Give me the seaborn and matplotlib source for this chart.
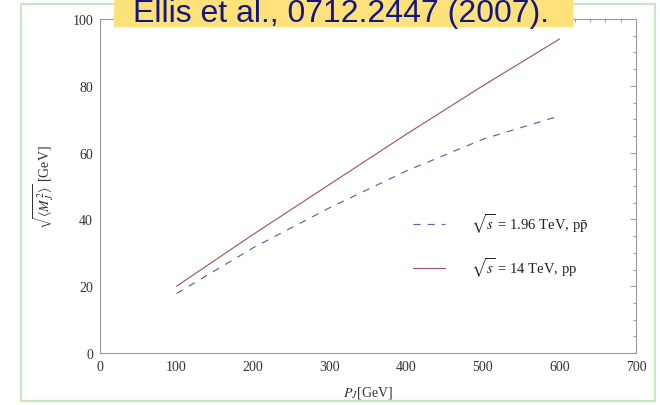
import matplotlib
matplotlib.use("Agg")
import matplotlib.pyplot as plt
import pandas as pd
import seaborn as sns
from matplotlib.patches import Rectangle
from matplotlib.ticker import MultipleLocator

# Jet transverse momentum P_J [GeV]
pt_jet = [100, 200, 300, 400, 500, 600]
# sqrt(<M_J^2>) [GeV] for the two collider setups
mass_tevatron = [17.8, 31.5, 43.5, 54.5, 64.0, 71.0]
mass_lhc = [20.0, 35.5, 50.5, 65.5, 80.0, 94.0]

series_labels = [r"$\sqrt{s}$ = 1.96 TeV, p$\bar{\rm p}$", r"$\sqrt{s}$ = 14 TeV, pp"]
x_ticks = [0, 100, 200, 300, 400, 500, 600, 700]
y_ticks = [0, 20, 40, 60, 80, 100]
citation = "Ellis et al., 0712.2447 (2007)."

df = pd.DataFrame({
    "pt": pt_jet * 2,
    "mass": mass_tevatron + mass_lhc,
    "series": [series_labels[0]] * len(pt_jet) + [series_labels[1]] * len(pt_jet),
})

sns.set_theme(style="white")
plt.rcParams["font.family"] = ["Liberation Serif", "DejaVu Serif"]
plt.rcParams["mathtext.fontset"] = "stix"

fig = plt.figure(figsize=(6.6, 4.06), dpi=100)
fig.patch.set_facecolor("white")
ax = fig.add_axes([100 / 660, 52 / 406, 536 / 660, 334 / 406])

line_colors = {series_labels[0]: "#5a62a8", series_labels[1]: "#a05a66"}
line_dashes = {series_labels[0]: (6.0, 6.0), series_labels[1]: ""}
sns.lineplot(data=df, x="pt", y="mass", hue="series", style="series",
             palette=line_colors, dashes=line_dashes, linewidth=0.85,
             hue_order=series_labels, style_order=series_labels, ax=ax)

ax.set_xlim(0, 700)
ax.set_ylim(0, 100)
ax.set_xticks(x_ticks)
ax.set_yticks(y_ticks)
ax.xaxis.set_minor_locator(MultipleLocator(20))
ax.yaxis.set_minor_locator(MultipleLocator(5))
ax.tick_params(which="both", direction="in", top=True, right=True,
               color="#9a9a9a", width=0.7, labelsize=10, labelcolor="#333333")
ax.tick_params(which="major", length=4.5, pad=5)
ax.tick_params(which="minor", length=2.5)
for sp in ax.spines.values():
    sp.set_color("#9a9a9a")
    sp.set_linewidth(0.8)

ax.set_xlabel(r"$P_J$[GeV]", fontsize=10, color="#333333", labelpad=8)
ax.set_ylabel(r"$\sqrt{\langle M_J^2\rangle}$ [GeV]", fontsize=10,
              color="#333333", labelpad=12)

leg = ax.legend(loc="center left", bbox_to_anchor=(413 / 660, 1 - 246 / 406),
                bbox_transform=fig.transFigure, frameon=False, fontsize=10.5,
                borderpad=0, borderaxespad=0, handlelength=2.2,
                handletextpad=1.8, labelspacing=1.4)
for t in leg.get_texts():
    t.set_color("#222222")

# outer frame and citation banner
fig.patches.append(Rectangle((21 / 660, 4 / 406), 634 / 660, 397 / 406,
                             transform=fig.transFigure, fill=False,
                             edgecolor="#c6e8c0", linewidth=1.6, zorder=5))
fig.patches.append(Rectangle((114 / 660, 1 - 27.5 / 406), 459 / 660, 0.1,
                             transform=fig.transFigure, facecolor="#fde27c",
                             edgecolor="none", zorder=10))
fig.text(133 / 660, 1 - 22 / 406, citation, fontsize=23,
         family=["Liberation Sans", "DejaVu Sans"], color="#16167f",
         va="baseline", ha="left", zorder=11)

fig.savefig("out.png", dpi=100, facecolor="white")
